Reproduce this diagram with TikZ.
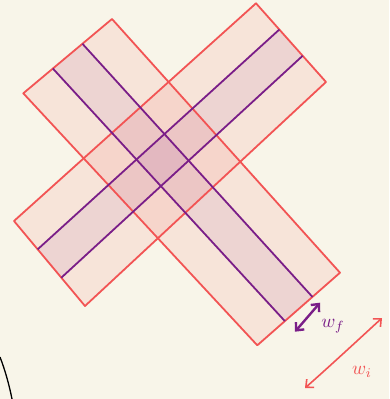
\documentclass[tikz,border=0pt]{standalone}
\usepackage{amsmath}
\usepackage{tikz}
\usetikzlibrary{calc, arrows.meta}
\tikzset{>={Straight Barb[length=6pt,width=11pt]}}
\usepackage{xcolor}
\definecolor{bgcream}{HTML}{F8F5E9}
\definecolor{myred}{HTML}{F25454}
\definecolor{mypurple}{HTML}{7A1E88}

\begin{document}
\begin{tikzpicture}[x=1pt,y=-1pt]
			\fill[bgcream] (0,0) rectangle (389,399);
			\useasboundingbox (0,0) rectangle (389,399);
			% arm going down to the right
			\coordinate (A1) at (112,19);
			\coordinate (A2) at (340,272.7);
			\coordinate (A3) at (257.3,345.3);
			\coordinate (A4) at (23.3,93.3);
			% arm going up to the right
			\coordinate (B1) at (256,3.3);
			\coordinate (B2) at (326,82);
			\coordinate (B3) at (85,306);
			\coordinate (B4) at (14,221);
			\fill[myred,opacity=0.1] (A1) -- (A2) -- (A3) -- (A4) -- cycle;
			\fill[myred,opacity=0.1] (B1) -- (B2) -- (B3) -- (B4) -- cycle;
			\fill[mypurple,opacity=0.08] ($(A1)!1/3!(A4)$) -- ($(A2)!1/3!(A3)$) -- ($(A2)!2/3!(A3)$) -- ($(A1)!2/3!(A4)$) -- cycle;
			\fill[mypurple,opacity=0.08] ($(B1)!1/3!(B2)$) -- ($(B4)!1/3!(B3)$) -- ($(B4)!2/3!(B3)$) -- ($(B1)!2/3!(B2)$) -- cycle;
			\draw[myred,line width=1.8pt,line join=round] (A1) -- (A2) -- (A3) -- (A4) -- cycle;
			\draw[myred,line width=1.8pt,line join=round] (B1) -- (B2) -- (B3) -- (B4) -- cycle;
			\draw[mypurple,line width=1.8pt] ($(A1)!1/3!(A4)$) -- ($(A2)!1/3!(A3)$);
			\draw[mypurple,line width=1.8pt] ($(A1)!2/3!(A4)$) -- ($(A2)!2/3!(A3)$);
			\draw[mypurple,line width=1.8pt] ($(B1)!1/3!(B2)$) -- ($(B4)!1/3!(B3)$);
			\draw[mypurple,line width=1.8pt] ($(B1)!2/3!(B2)$) -- ($(B4)!2/3!(B3)$);
			% widths
			\coordinate (wf1) at (295,331.7);
			\coordinate (wf2) at (320,302.7);
			\draw[mypurple,line width=2.4pt,<->] (wf1) -- (wf2);
			\node[mypurple,scale=1.9] (wf) at (333,326) {\(w_f\)};
			\coordinate (wi1) at (305,388);
			\coordinate (wi2) at (382,318);
			\draw[myred,line width=1.6pt,<->] (wi1) .. controls (330,366) and (358,340) .. (wi2);
			\node[myred,scale=1.9] (wi) at (362,372) {\(w_i\)};
			% stray stroke
			\draw[black,line width=1.3pt] (0,357) .. controls (5,370) and (9,384) .. (12,399);
		\end{tikzpicture}
\end{document}
